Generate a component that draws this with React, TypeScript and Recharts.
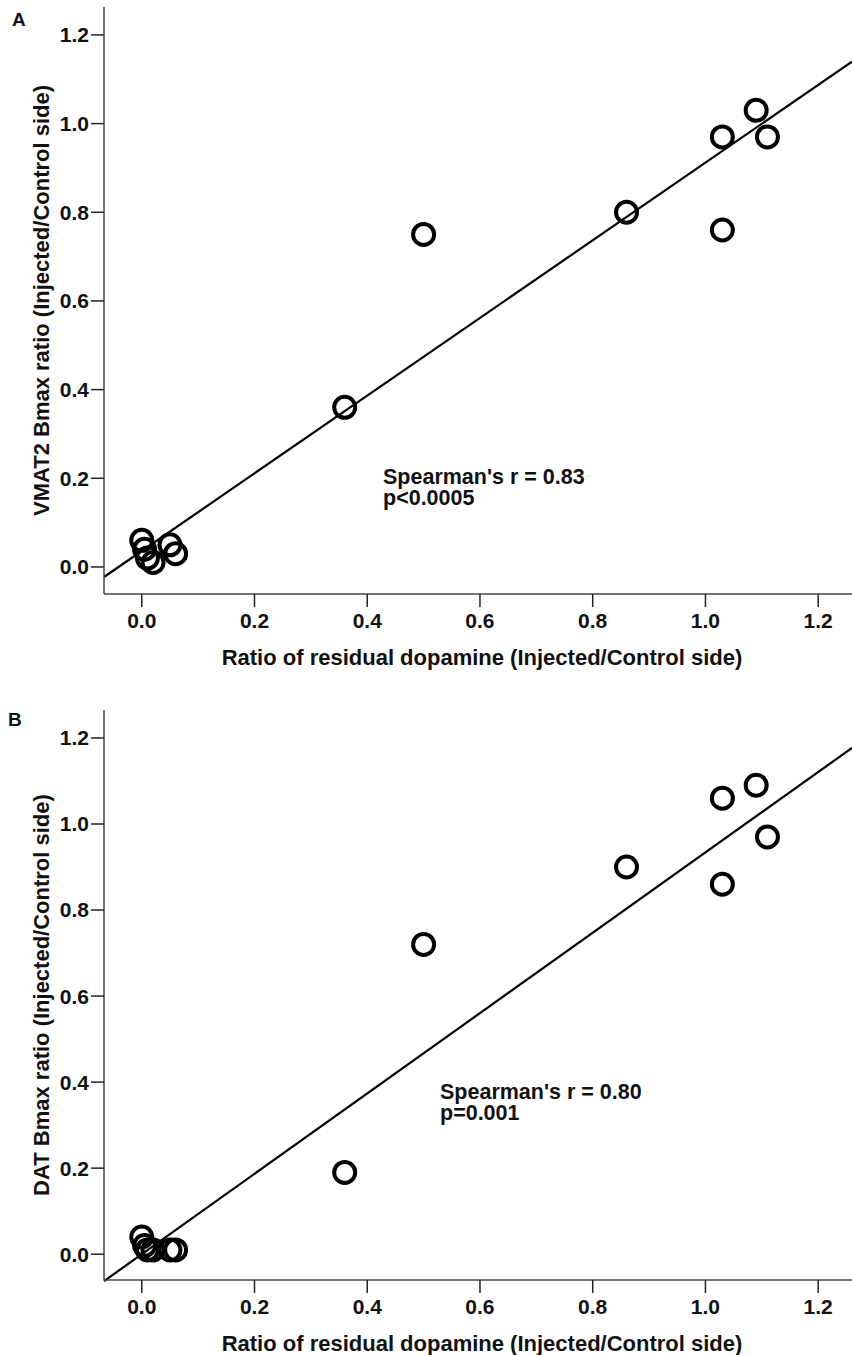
import { ScatterChart, Scatter, XAxis, YAxis, ReferenceLine, Label } from "recharts";

// residual dopamine ratio per animal (shared by both panels)
const residualDopamine = [0, 0.005, 0.01, 0.02, 0.05, 0.06, 0.36, 0.5, 0.86, 1.03, 1.03, 1.09, 1.11];
const vmat2Bmax = [0.06, 0.04, 0.02, 0.01, 0.05, 0.03, 0.36, 0.75, 0.8, 0.97, 0.76, 1.03, 0.97];
const datBmax = [0.04, 0.02, 0.01, 0.01, 0.01, 0.01, 0.19, 0.72, 0.9, 1.06, 0.86, 1.09, 0.97];

// fitted lines: [slope, intercept]
const fitA = [0.876, 0.036];
const fitB = [0.934, 0.0];

const ticks = [0, 0.2, 0.4, 0.6, 0.8, 1.0, 1.2];
const xDomain = [-0.067, 1.26];

const FONT = "'Liberation Sans', Arial, sans-serif";
const tickStyle = { fontSize: 21, fontWeight: 700, fill: "#111", fontFamily: FONT };

const Ring = (props: any) => (
  <circle cx={props.cx} cy={props.cy} r={10.5} fill="none" stroke="#000" strokeWidth={4} />
);

type PanelProps = {
  top: number;
  height: number;
  marginTop: number;
  xAxisHeight: number;
  yValues: number[];
  yDomain: number[];
  fit: number[];
  yTitle: string;
  letter: string;
  letterPos: number[];
  stats: string[];
  statsPos: number[];
};

function Panel(p: PanelProps) {
  const data = residualDopamine.map((x, i) => ({ x, y: p.yValues[i] }));
  const [m, b] = p.fit;
  const segment = [
    { x: xDomain[0], y: m * xDomain[0] + b },
    { x: xDomain[1], y: m * xDomain[1] + b },
  ];
  return (
    <div style={{ position: "absolute", left: 0, top: p.top, width: 852, height: p.height }}>
      <ScatterChart width={852} height={p.height} margin={{ top: p.marginTop, right: 0, bottom: 0, left: 0 }}>
        <XAxis
          type="number"
          dataKey="x"
          domain={xDomain}
          ticks={ticks}
          allowDataOverflow
          tickFormatter={(v) => v.toFixed(1)}
          height={p.xAxisHeight}
          tickSize={13}
          tickMargin={6}
          tick={tickStyle}
          axisLine={{ stroke: "#444", strokeWidth: 1.5 }}
          tickLine={{ stroke: "#222", strokeWidth: 1.5 }}
        >
          <Label
            content={(lp: any) => {
              const vb = lp.viewBox;
              return (
                <text
                  x={482}
                  y={vb.y + 71}
                  textAnchor="middle"
                  style={{ fontSize: 22, fontWeight: 700, fontFamily: FONT }}
                  fill="#111"
                >
                  Ratio of residual dopamine (Injected/Control side)
                </text>
              );
            }}
          />
        </XAxis>
        <YAxis
          type="number"
          dataKey="y"
          domain={p.yDomain}
          ticks={ticks}
          allowDataOverflow
          tickFormatter={(v) => v.toFixed(1)}
          width={104}
          tickSize={13}
          tickMargin={2}
          tick={tickStyle}
          axisLine={{ stroke: "#444", strokeWidth: 1.5 }}
          tickLine={{ stroke: "#222", strokeWidth: 1.5 }}
        >
          <Label
            content={(lp: any) => {
              const vb = lp.viewBox;
              const cy = vb.y + vb.height / 2;
              return (
                <text
                  x={41}
                  y={cy}
                  transform={`rotate(-90 41 ${cy})`}
                  textAnchor="middle"
                  dominantBaseline="central"
                  style={{ fontSize: 22, fontWeight: 700, fontFamily: FONT }}
                  fill="#111"
                >
                  {p.yTitle}
                </text>
              );
            }}
          />
        </YAxis>
        <ReferenceLine segment={segment} stroke="#000" strokeWidth={2.2} ifOverflow="visible" />
        <Scatter data={data} shape={Ring} isAnimationActive={false} />
      </ScatterChart>
      <div
        style={{
          position: "absolute",
          left: p.letterPos[0],
          top: p.letterPos[1],
          fontFamily: FONT,
          fontWeight: 700,
          fontSize: 19,
          lineHeight: 1,
          color: "#111",
        }}
      >
        {p.letter}
      </div>
      <div
        style={{
          position: "absolute",
          left: p.statsPos[0],
          top: p.statsPos[1],
          fontFamily: FONT,
          fontWeight: 700,
          fontSize: 21.5,
          lineHeight: "21px",
          color: "#111",
        }}
      >
        {p.stats.map((s) => (
          <div key={s}>{s}</div>
        ))}
      </div>
    </div>
  );
}

export default function App() {
  return (
    <div style={{ position: "absolute", left: 0, top: 0, width: 852, height: 1355, background: "#fff" }}>
      <Panel
        top={0}
        height={680}
        marginTop={7}
        xAxisHeight={86}
        yValues={vmat2Bmax}
        yDomain={[-0.061, 1.263]}
        fit={fitA}
        yTitle="VMAT2 Bmax ratio (Injected/Control side)"
        letter="A"
        letterPos={[12, 10]}
        stats={["Spearman's r = 0.83", "p<0.0005"]}
        statsPos={[383, 467]}
      />
      <Panel
        top={660}
        height={695}
        marginTop={50}
        xAxisHeight={75}
        yValues={datBmax}
        yDomain={[-0.06, 1.265]}
        fit={fitB}
        yTitle="DAT Bmax ratio (Injected/Control side)"
        letter="B"
        letterPos={[8, 50]}
        stats={["Spearman's r = 0.80", "p=0.001"]}
        statsPos={[440, 1082 - 660]}
      />
    </div>
  );
}
